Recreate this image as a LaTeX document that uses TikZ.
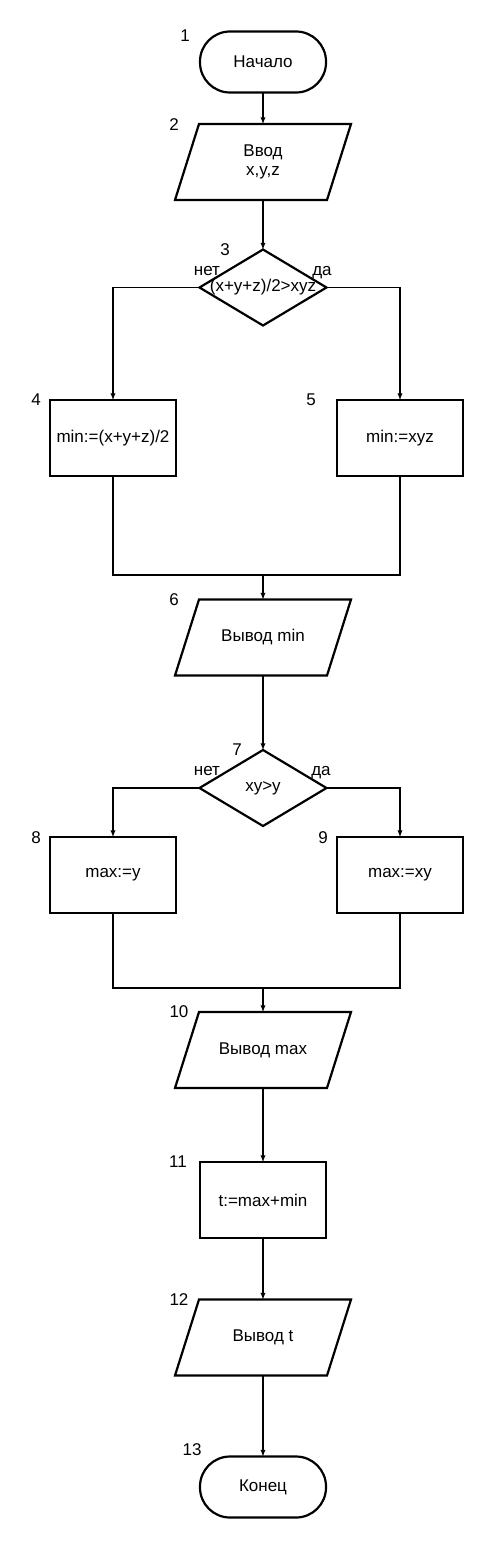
\documentclass[tikz,border=0pt]{standalone}
\usepackage{fontspec}
\setmainfont{Liberation Sans}
\usetikzlibrary{arrows,shapes.geometric}
\tikzset{
    blocknode/.style = {
        align=center,
        text centered,
        draw=black,
        line width=2.2pt,
        inner sep=0pt,
        outer sep=0pt
    },
    termnode/.style = {
        blocknode,
        rectangle,
        rounded corners=30pt,
        minimum width=126pt,
        minimum height=61pt
    },
    procnode/.style = {
        blocknode,
        rectangle,
        minimum width=126pt,
        minimum height=76pt
    },
    ionode/.style = {
        blocknode,
        draw=none,
        rectangle,
        minimum width=152pt,
        minimum height=76pt
    },
    ioframe/.style = {
        draw=black,
        line width=2.2pt
    },
    decnode/.style = {
        blocknode,
        diamond,
        minimum width=127pt,
        minimum height=76pt
    },
    numnode/.style = {
        anchor=base,
        inner sep=0pt
    },
    flowline/.style = {
        line width=1.3pt
    },
    flowarrow/.style = {
        flowline,
        -latex
    }
}

\begin{document}
\begin{tikzpicture}[x=1pt, y=-1pt, font=\fontsize{17}{19.5}\selectfont]
    \useasboundingbox (0,0) rectangle (488,1544);

    \node [termnode] (t1) at (263,62) {Начало};
    \node [ionode] (p2) at (263,162) {Ввод\\x,y,z};
    \node [decnode] (d3) at (263,287.5) {};
    \node [inner sep=0pt] (d3text) at (d3.center) {(x+y+z)/2>xyz};
    \node [procnode] (b4) at (113,438) {min:=(x+y+z)/2};
    \node [procnode] (b5) at (400,438) {min:=xyz};
    \coordinate (j1) at (263,575);
    \node [ionode] (p6) at (263,637.5) {Вывод min};
    \node [decnode] (d7) at (263,788) {};
    \node [inner sep=0pt] (d7text) at (d7.center) {xy>y};
    \node [procnode] (b8) at (113,875) {max:=y};
    \node [procnode] (b9) at (400,875) {max:=xy};
    \coordinate (j2) at (263,988);
    \node [ionode] (p10) at (263,1050) {Вывод max};
    \node [procnode] (b11) at (263,1200) {t:=max+min};
    \node [ionode] (p12) at (263,1337.5) {Вывод t};
    \node [termnode] (t13) at (263,1487) {Конец};

    \foreach \io in {p2,p6,p10,p12}
        \draw [ioframe] ([xshift=12pt]\io.north west) -- ([xshift=12pt]\io.north east)
            -- ([xshift=-12pt]\io.south east) -- ([xshift=-12pt]\io.south west) -- cycle;

    \node [numnode] (n1) at (185,42) {1};
    \node [numnode] (n2) at (174,131) {2};
    \node [numnode] (n3) at (225,255) {3};
    \node [numnode] (no3) at (207,275) {нет};
    \node [numnode] (yes3) at (322,275) {да};
    \node [numnode] (n4) at (36,405) {4};
    \node [numnode] (n5) at (311,405) {5};
    \node [numnode] (n6) at (174,605) {6};
    \node [numnode] (n7) at (237,755) {7};
    \node [numnode] (no7) at (207,775) {нет};
    \node [numnode] (yes7) at (321,775) {да};
    \node [numnode] (n8) at (36,843) {8};
    \node [numnode] (n9) at (323,843) {9};
    \node [numnode] (n10) at (179,1017) {10};
    \node [numnode] (n11) at (178,1167) {11};
    \node [numnode] (n12) at (179,1305) {12};
    \node [numnode] (n13) at (192,1455) {13};

    \draw [flowarrow] (t1) -- (p2);
    \draw [flowarrow] (p2) -- (d3);
    \draw [flowarrow] (d3.west) -| (b4.north);
    \draw [flowarrow] (d3.east) -| (b5.north);
    \draw [flowline] (b4.south) |- (j1) -| (b5.south);
    \draw [flowarrow] (j1) -- (p6);
    \draw [flowarrow] (p6) -- (d7);
    \draw [flowarrow] (d7.west) -| (b8.north);
    \draw [flowarrow] (d7.east) -| (b9.north);
    \draw [flowline] (b8.south) |- (j2) -| (b9.south);
    \draw [flowarrow] (j2) -- (p10);
    \draw [flowarrow] (p10) -- (b11);
    \draw [flowarrow] (b11) -- (p12);
    \draw [flowarrow] (p12) -- (t13);
\end{tikzpicture}
\end{document}
